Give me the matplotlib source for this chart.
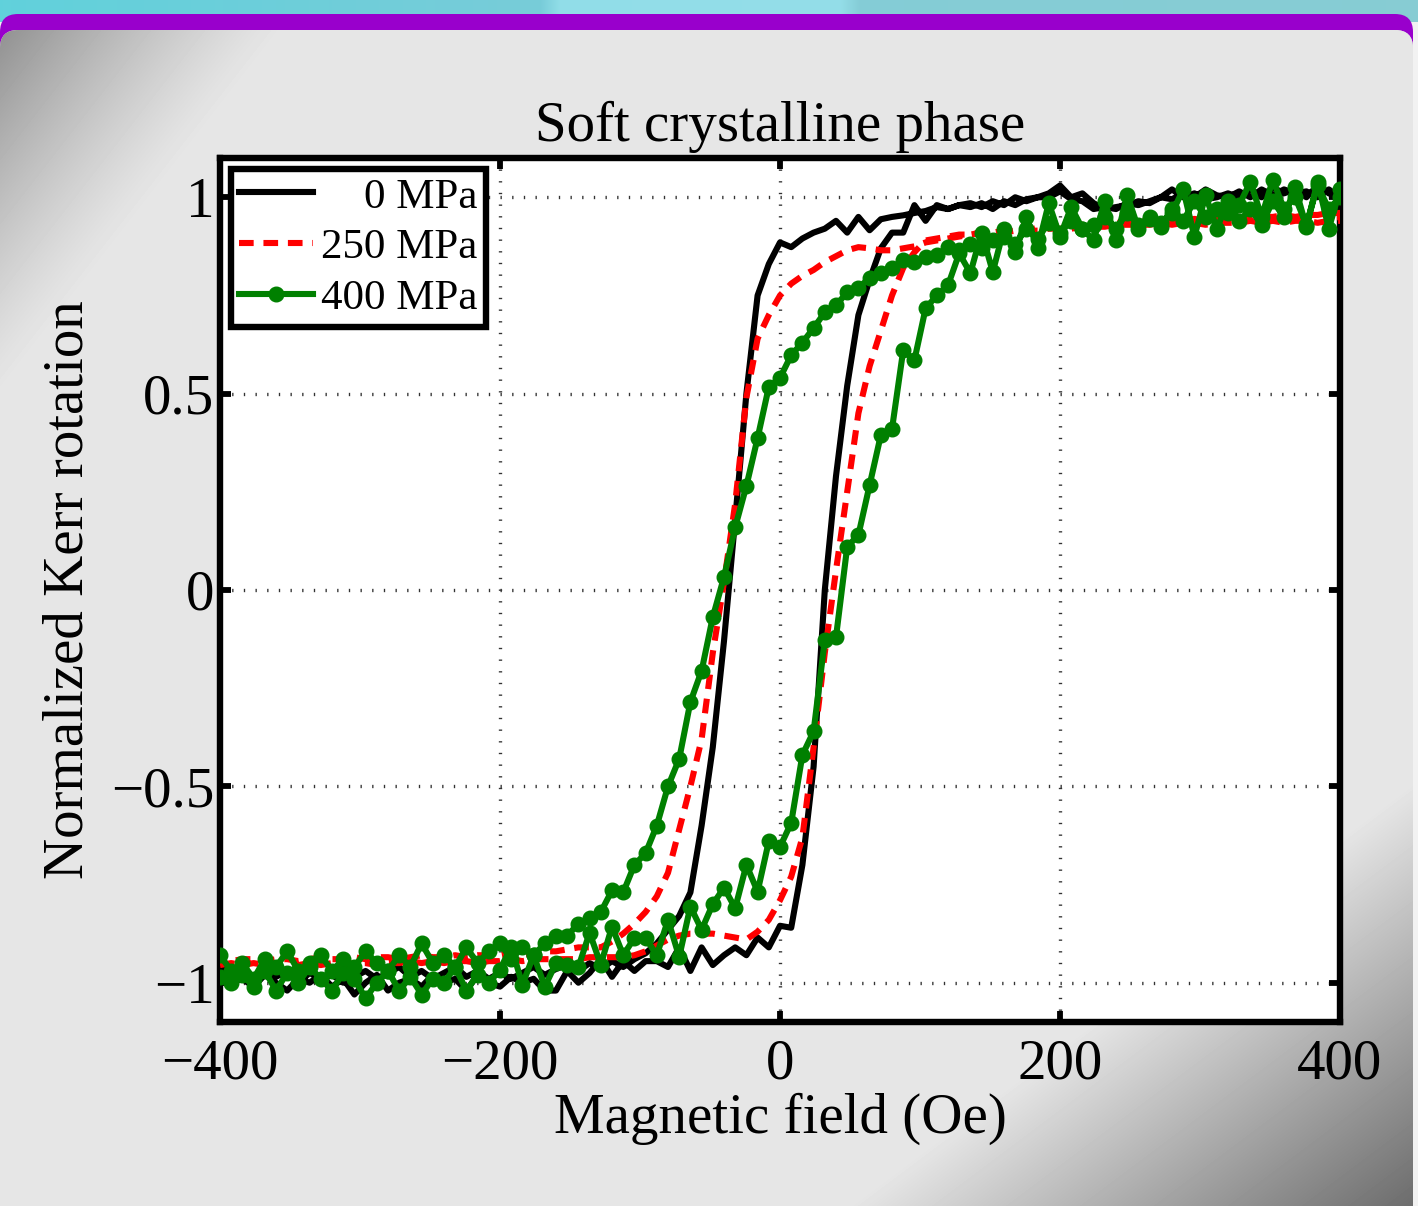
import numpy as np
import matplotlib
matplotlib.use("Agg")
import matplotlib.pyplot as plt
from matplotlib.patches import FancyBboxPatch

plt.rcParams['font.family'] = ['Liberation Serif', 'DejaVu Serif']

# field grid (Oe), same for every sweep
field_min, field_max, field_step = -400, 400, 8
field = np.arange(field_min, field_max + 1, field_step)

# 0 MPa: sweep up (low branch) and sweep down (high branch), on the field grid
k0_up = [-0.98, -1.00, -0.99, -1.01, -0.98, -1.00, -1.02, -0.99, -1.00, -0.98,
         -1.01, -0.99, -1.03, -1.00, -0.98, -1.02, -1.00, -0.99, -1.01, -0.98,
         -1.00, -0.99, -1.02, -0.98, -1.00, -1.01, -0.985, -1.00, -0.99, -1.02,
         -1.02, -0.97, -1.00, -0.975, -0.94, -0.985, -0.945, -0.97, -0.945, -0.945,
         -0.96, -0.91, -0.97, -0.91, -0.955, -0.93, -0.91, -0.93, -0.885, -0.91,
         -0.855, -0.86, -0.70, -0.45, 0.0, 0.29, 0.52, 0.70, 0.79, 0.87,
         0.91, 0.91, 0.98, 0.94, 0.98, 0.97, 0.98, 0.985, 0.975, 0.99,
         0.98, 1.00, 0.99, 1.00, 1.01, 1.03, 1.00, 1.01, 0.985, 0.97,
         0.975, 0.98, 0.99, 0.985, 1.00, 1.02, 1.00, 1.01, 0.995, 1.00,
         1.01, 1.00, 1.02, 1.00, 1.025, 1.01, 1.02, 1.00, 1.03, 1.01,
         1.00]
k0_down = [-0.96, -0.98, -0.97, -0.99, -0.96, -0.985, -0.97, -1.00, -0.975, -0.99,
           -0.98, -1.00, -0.985, -0.97, -0.99, -0.975, -0.96, -0.985, -0.97, -0.99,
           -0.975, -0.96, -0.985, -0.97, -0.99, -0.975, -0.99, -0.975, -0.96, -0.98,
           -0.965, -0.955, -0.97, -0.95, -0.965, -0.945, -0.96, -0.94, -0.925, -0.90,
           -0.865, -0.83, -0.77, -0.60, -0.40, -0.13, 0.18, 0.50, 0.75, 0.83,
           0.885, 0.873, 0.895, 0.91, 0.92, 0.94, 0.91, 0.95, 0.916, 0.944,
           0.95, 0.954, 0.96, 0.965, 0.975, 0.97, 0.98, 0.975, 0.985, 0.97,
           0.99, 0.98, 0.995, 1.00, 1.00, 1.015, 0.995, 0.99, 0.97, 0.975,
           0.97, 0.985, 0.98, 0.99, 1.00, 0.995, 1.01, 1.00, 1.02, 1.005,
           1.00, 1.015, 1.00, 1.02, 1.005, 1.02, 1.01, 1.015, 1.00, 1.02,
           1.00]

# 250 MPa
k250_up = [-0.955, -0.95, -0.955, -0.95, -0.955, -0.95, -0.955, -0.955, -0.95, -0.955,
           -0.95, -0.955, -0.95, -0.95, -0.955, -0.95, -0.95, -0.945, -0.95, -0.945,
           -0.95, -0.945, -0.945, -0.95, -0.945, -0.945, -0.94, -0.945, -0.94, -0.94,
           -0.94, -0.94, -0.94, -0.935, -0.935, -0.935, -0.935, -0.93, -0.92, -0.905,
           -0.89, -0.88, -0.875, -0.875, -0.875, -0.88, -0.885, -0.89, -0.87, -0.84,
           -0.79, -0.73, -0.63, -0.40, -0.16, 0.05, 0.25, 0.45, 0.57, 0.66,
           0.75, 0.82, 0.86, 0.89, 0.895, 0.90, 0.905, 0.905, 0.91, 0.91,
           0.91, 0.915, 0.915, 0.915, 0.92, 0.92, 0.92, 0.925, 0.925, 0.925,
           0.93, 0.93, 0.93, 0.93, 0.935, 0.93, 0.935, 0.935, 0.93, 0.935,
           0.935, 0.935, 0.94, 0.935, 0.94, 0.935, 0.94, 0.94, 0.935, 0.94,
           0.94]
k250_down = [-0.94, -0.945, -0.94, -0.94, -0.945, -0.94, -0.94, -0.945, -0.94, -0.935,
             -0.94, -0.94, -0.935, -0.94, -0.935, -0.935, -0.94, -0.935, -0.93, -0.935,
             -0.935, -0.93, -0.935, -0.93, -0.93, -0.93, -0.925, -0.93, -0.925, -0.92,
             -0.92, -0.915, -0.91, -0.91, -0.91, -0.895, -0.875, -0.85, -0.82, -0.78,
             -0.72, -0.61, -0.50, -0.38, -0.16, 0.02, 0.22, 0.49, 0.64, 0.70,
             0.75, 0.78, 0.80, 0.815, 0.835, 0.85, 0.865, 0.873, 0.87, 0.865,
             0.865, 0.87, 0.875, 0.885, 0.89, 0.895, 0.90, 0.905, 0.91, 0.91,
             0.915, 0.915, 0.92, 0.92, 0.925, 0.925, 0.93, 0.93, 0.93, 0.935,
             0.935, 0.935, 0.94, 0.935, 0.94, 0.94, 0.94, 0.945, 0.94, 0.945,
             0.945, 0.95, 0.945, 0.95, 0.95, 0.955, 0.95, 0.955, 0.955, 0.96,
             0.96]

# 400 MPa
k400_up = [-0.985, -1.00, -0.98, -1.01, -0.97, -1.02, -0.975, -1.00, -0.96, -0.99,
           -1.02, -0.975, -0.99, -1.04, -1.00, -0.97, -1.02, -0.985, -1.03, -0.99,
           -1.00, -0.96, -1.02, -0.98, -1.00, -0.967, -0.908, -1.005, -0.93, -1.01,
           -0.95, -0.954, -0.96, -0.873, -0.954, -0.857, -0.93, -0.886, -0.886, -0.93,
           -0.84, -0.934, -0.806, -0.865, -0.80, -0.758, -0.81, -0.70, -0.768, -0.64,
           -0.654, -0.593, -0.42, -0.36, -0.127, -0.12, 0.11, 0.14, 0.267, 0.394,
           0.41, 0.61, 0.585, 0.717, 0.75, 0.776, 0.857, 0.807, 0.91, 0.81,
           0.92, 0.86, 0.95, 0.87, 0.985, 0.90, 0.975, 0.92, 0.89, 0.99,
           0.89, 1.005, 0.92, 0.95, 0.935, 0.96, 1.02, 0.90, 1.005, 0.92,
           0.99, 0.94, 0.97, 0.93, 0.99, 0.95, 1.025, 0.924, 1.04, 0.92,
           1.02]
k400_down = [-0.93, -0.97, -0.95, -0.99, -0.94, -0.96, -0.92, -0.97, -0.95, -0.93,
             -0.97, -0.94, -0.96, -0.92, -0.95, -0.97, -0.93, -0.96, -0.90, -0.95,
             -0.93, -0.96, -0.91, -0.95, -0.92, -0.90, -0.94, -0.91, -0.93, -0.90,
             -0.88, -0.88, -0.85, -0.835, -0.82, -0.765, -0.77, -0.70, -0.67, -0.60,
             -0.50, -0.43, -0.285, -0.206, -0.069, 0.033, 0.16, 0.265, 0.387, 0.517,
             0.54, 0.598, 0.63, 0.667, 0.707, 0.725, 0.758, 0.77, 0.794, 0.807,
             0.82, 0.84, 0.835, 0.848, 0.852, 0.873, 0.865, 0.88, 0.87, 0.89,
             0.90, 0.88, 0.92, 0.895, 0.935, 0.91, 0.94, 0.92, 0.93, 0.95,
             0.92, 0.96, 0.93, 0.945, 0.925, 0.97, 0.94, 0.99, 0.95, 0.97,
             0.96, 0.98, 1.04, 0.95, 1.045, 0.97, 1.00, 0.93, 1.03, 0.97,
             1.00]

labels = ["    0 MPa", "250 MPa", "400 MPa"]
xticks = [-400, -200, 0, 200, 400]
xticklabels = ["\u2212400", "\u2212200", "0", "200", "400"]
yticks = [-1, -0.5, 0, 0.5, 1]
yticklabels = ["\u22121", "\u22120.5", "0", "0.5", "1"]

W, H = 1418, 1206
fig = plt.figure(figsize=(W / 100, H / 100), dpi=100, facecolor='#f2f2f2')

# ---- slide-like background ----
bg = fig.add_axes([0, 0, 1, 1], zorder=-10)
bg.axis('off')
cx = np.arange(W)
stops = [0, 540, 560, 840, 860, W]
band = np.stack([np.interp(cx, stops, [0.38, 0.47, 0.57, 0.58, 0.52, 0.53]),
                 np.interp(cx, stops, [0.82, 0.80, 0.87, 0.87, 0.80, 0.80]),
                 np.interp(cx, stops, [0.86, 0.85, 0.91, 0.91, 0.84, 0.83])], axis=-1)
bg.imshow(band[None, :, :], extent=(0, W, 22, 0), aspect='auto', zorder=0)
purple = FancyBboxPatch((0, 14), W - 5, 1400, boxstyle="round,pad=0,rounding_size=18",
                        fc='#9900cc', ec='none', zorder=1)
bg.add_patch(purple)
panel = FancyBboxPatch((0, 30), W - 5, 1400, boxstyle="round,pad=0,rounding_size=18",
                       fc='#e6e6e6', ec='none', zorder=2)
bg.add_patch(panel)
X, Y = np.meshgrid(np.arange(W), np.arange(H))
t1 = np.clip(1 - (X / 280 + (Y - 30) / 360), 0, 1) ** 1.2
t2 = np.clip((X - 850) / 568 + (Y - 780) / 426 - 1, 0, 1)
shade = np.minimum(0.9 - 0.33 * t1, 0.9 - 0.48 * t2)
im = bg.imshow(shade, cmap='gray', vmin=0, vmax=1, extent=(0, W, H, 0),
               aspect='auto', interpolation='bilinear', zorder=3)
im.set_clip_path(panel)
bg.set_xlim(0, W)
bg.set_ylim(H, 0)

# ---- main axes ----
ax = fig.add_axes([220 / W, (H - 1022) / H, 1120 / W, 864 / H])
ax.set_facecolor('white')

loop_x = np.concatenate([field, field[::-1]])
ax.plot(loop_x, np.concatenate([k0_up, k0_down[::-1]]), color='k', lw=4.4,
        label=labels[0], zorder=3)
ax.plot(loop_x, np.concatenate([k250_up, k250_down[::-1]]), color='#ff0000', lw=4.4,
        dashes=(2.4, 1.6), label=labels[1], zorder=4)
ax.plot(loop_x, np.concatenate([k400_up, k400_down[::-1]]), color='#008000', lw=4.4,
        marker='o', markersize=10.5, label=labels[2], zorder=5)

ax.set_xlim(-400, 400)
ax.set_ylim(-1.1, 1.1)
ax.set_xticks(xticks)
ax.set_xticklabels(xticklabels)
ax.set_yticks(yticks)
ax.set_yticklabels(yticklabels)
ax.tick_params(axis='both', direction='in', length=8, width=4.2, top=True, right=True,
               labelsize=41, colors='k')
ax.tick_params(axis='x', pad=12)
ax.tick_params(axis='y', pad=4)
for sp in ax.spines.values():
    sp.set_linewidth(4.6)
ax.grid(True, color='#333333', lw=2.4, linestyle=(0, (0.4, 3.1)))
ax.set_axisbelow(True)

ax.set_title("Soft crystalline phase", fontsize=41, pad=12)
ax.set_xlabel("Magnetic field (Oe)", fontsize=41)
ax.set_ylabel("Normalized Kerr rotation", fontsize=41)
ax.xaxis.set_label_coords(0.5, -0.082)
ax.yaxis.set_label_coords(-0.112, 0.5)

leg = ax.legend(loc='upper left', fontsize=31, frameon=True, fancybox=False,
                framealpha=1, edgecolor='k', borderaxespad=0.25, borderpad=0.2,
                labelspacing=0.27, handlelength=1.7, handletextpad=0.2)
leg.get_frame().set_linewidth(4.6)
leg.set_zorder(10)

fig.savefig("out.png", dpi=100, facecolor=fig.get_facecolor())
